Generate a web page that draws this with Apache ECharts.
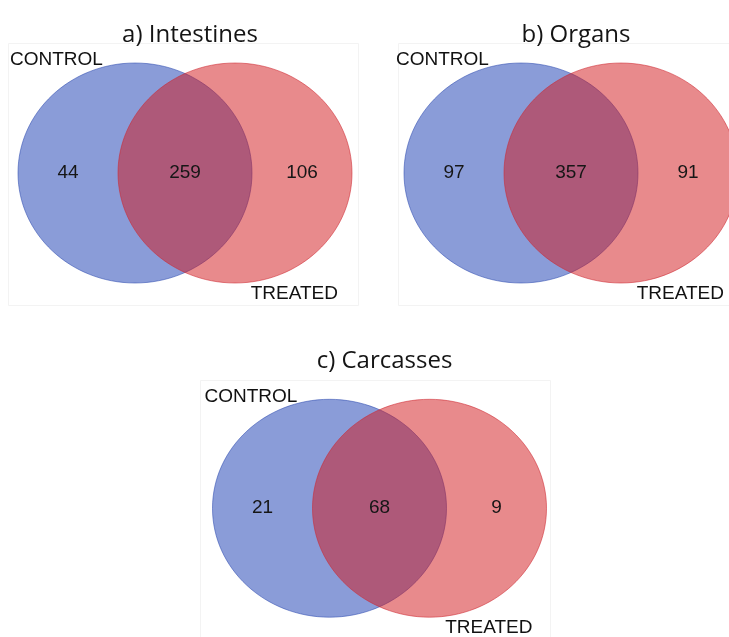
<!DOCTYPE html>
<html>
<head>
<meta charset="utf-8">
<script src="https://cdn.jsdelivr.net/npm/echarts@6/dist/echarts.min.js"></script>
<style>
  html, body { margin: 0; padding: 0; background: #ffffff; }
  #chart { width: 729px; height: 637px; }
</style>
</head>
<body>
<div id="chart"></div>
<script>
// Panel titles and set names
const panelTitles = ['a) Intestines', 'b) Organs', 'c) Carcasses'];
const setNames = ['CONTROL', 'TREATED'];

// Gene counts per region of each Venn diagram
const controlOnly = [44, 97, 21];
const shared = [259, 357, 68];
const treatedOnly = [106, 91, 9];

// Layout: each panel gets its own grid; 1 axis unit = 100 px
const panelCentres = [[135, 173], [521, 173], [329.5, 509.5]]; // centre of the CONTROL set, px
const titleTops = [18, 18, 344];  // top of each panel title, px
const setX = [0, 1];              // set centres on the panel x axis
const RX = 1.17, RY = 1.10;       // set radii (axis units)
const regionX = [-0.67, 0.5, 1.67];
const XMIN = -1.3, XMAX = 1.9, YMIN = -1.3, YMAX = 1.3;
const UNIT = 100;

const fills = ['rgba(21,57,177,0.5)', 'rgba(209,21,25,0.5)'];
const strokes = ['rgba(45,75,175,0.55)', 'rgba(205,40,50,0.55)'];

const chart = echarts.init(document.getElementById('chart'), null, { renderer: 'canvas' });

const grids = [], xAxes = [], yAxes = [], series = [], titles = [], frames = [];

panelCentres.forEach(function (c, i) {
  grids.push({
    left: c[0] + XMIN * UNIT,
    top: c[1] - YMAX * UNIT,
    width: (XMAX - XMIN) * UNIT,
    height: (YMAX - YMIN) * UNIT,
    containLabel: false
  });
  xAxes.push({ type: 'value', gridIndex: i, min: XMIN, max: XMAX, show: false });
  yAxes.push({ type: 'value', gridIndex: i, min: YMIN, max: YMAX, show: false });

  // the two sets
  series.push({
    type: 'custom',
    xAxisIndex: i,
    yAxisIndex: i,
    silent: true,
    clip: false,
    data: setX.map(function (x, k) { return [x, 0, k]; }),
    renderItem: function (params, api) {
      const p = api.coord([api.value(0), api.value(1)]);
      const s = api.size([RX, RY]);
      const k = api.value(2);
      return {
        type: 'ellipse',
        shape: { cx: p[0], cy: p[1], rx: s[0], ry: s[1] },
        style: { fill: fills[k], stroke: strokes[k], lineWidth: 1 }
      };
    }
  });

  // region counts
  const counts = [controlOnly[i], shared[i], treatedOnly[i]];
  series.push({
    type: 'custom',
    xAxisIndex: i,
    yAxisIndex: i,
    silent: true,
    clip: false,
    z: 5,
    data: regionX.map(function (x, k) { return [x, 0, counts[k]]; }),
    renderItem: function (params, api) {
      const p = api.coord([api.value(0), api.value(1)]);
      return {
        type: 'text',
        x: p[0],
        y: p[1],
        style: {
          text: String(api.value(2)),
          fill: '#161616',
          fontSize: 19,
          fontFamily: 'Liberation Sans, Arial, sans-serif',
          align: 'center',
          verticalAlign: 'middle'
        }
      };
    }
  });

  // set names
  series.push({
    type: 'custom',
    xAxisIndex: i,
    yAxisIndex: i,
    silent: true,
    clip: false,
    z: 5,
    data: [[-1.25, 1.13, 0], [2.03, -1.21, 1]],
    renderItem: function (params, api) {
      const p = api.coord([api.value(0), api.value(1)]);
      const k = api.value(2);
      return {
        type: 'text',
        x: p[0],
        y: p[1],
        style: {
          text: setNames[k],
          fill: '#111111',
          fontSize: 19,
          fontFamily: 'Liberation Sans, Arial, sans-serif',
          align: k === 0 ? 'left' : 'right',
          verticalAlign: 'middle'
        }
      };
    }
  });

  titles.push({
    text: panelTitles[i],
    left: c[0] + 0.5 * UNIT,
    top: titleTops[i],
    textAlign: 'center',
    textStyle: {
      fontFamily: 'Open Sans',
      fontSize: 24,
      fontWeight: 'normal',
      color: '#141414'
    }
  });
});

// faint plot-area frames behind each diagram
const frameBoxes = [[8, 43, 350, 262], [398, 43, 340, 262], [200, 380, 350, 270]];
frameBoxes.forEach(function (b) {
  frames.push({
    type: 'rect',
    shape: { x: b[0] + 0.5, y: b[1] + 0.5, width: b[2], height: b[3] },
    style: { fill: 'none', stroke: '#f3f3f3', lineWidth: 1 },
    z: -10,
    silent: true
  });
});

chart.setOption({
  backgroundColor: '#ffffff',
  animation: false,
  title: titles,
  grid: grids,
  xAxis: xAxes,
  yAxis: yAxes,
  graphic: frames,
  series: series
});
</script>
</body>
</html>
